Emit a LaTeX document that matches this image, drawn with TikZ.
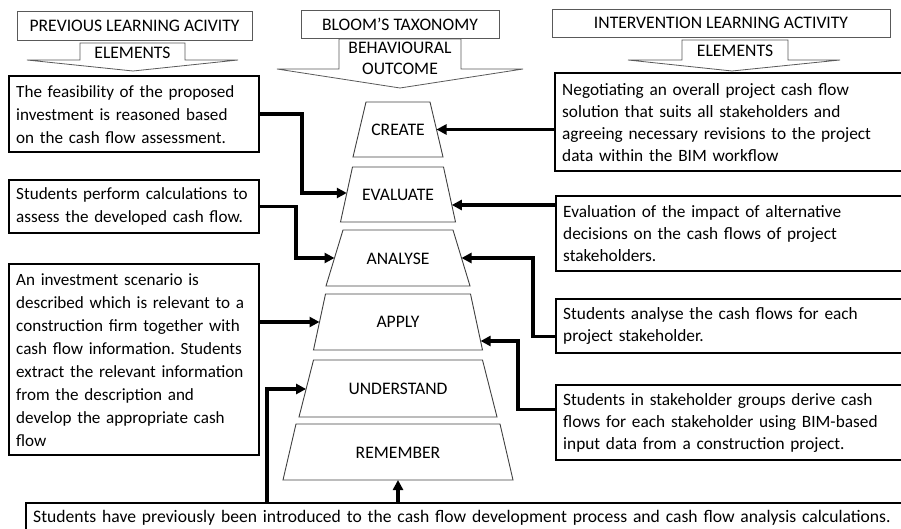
\documentclass[tikz,border=0pt]{standalone}
\usepackage{fontspec}
\setmainfont{Carlito}
\usetikzlibrary{arrows.meta}
\begin{document}
\frenchspacing
\begin{tikzpicture}[x=1pt,y=-1pt,
  txt/.style={font=\fontsize{17.6}{22}\selectfont, inner sep=0pt},
  hdr/.style={draw=black!65, line width=0.8pt, inner sep=0pt, font=\fontsize{17.6}{22}\selectfont},
  callout/.style={draw=black!65, line width=0.8pt, line join=miter},
  lbox/.style={draw=black, line width=2.4pt, anchor=north west, inner xsep=7pt, inner ysep=0pt,
               align=left, font=\fontsize{17.1}{23}\selectfont},
  rbox/.style={lbox, font=\fontsize{17.3}{22}\selectfont},
  wbox/.style={lbox, font=\fontsize{17.6}{22}\selectfont},
  tier/.style={draw=black!75, line width=0.9pt, line join=miter},
  conn/.style={line width=3.4pt, -{Triangle[length=10pt,width=10pt]}, line join=miter}
]
\clip (0,0) rectangle (901,529);
\useasboundingbox (0,0) rectangle (901,529);

% ---------- column headers ----------
\node[hdr, minimum width=235pt, minimum height=29pt] (H1) at (134.5,25.5) {PREVIOUS LEARNING ACIVITY};
\node[hdr, minimum width=198pt, minimum height=28pt] (H2) at (400,24) {BLOOM’S TAXONOMY};
\node[hdr, minimum width=338pt, minimum height=28pt] (H3) at (721,23) {INTERVENTION LEARNING ACTIVITY};

% ---------- down-arrow callouts ----------
\draw[callout] (80,43) -- (185,43) -- (185,60) -- (238,60) -- (133,71) -- (27,60) -- (80,60) -- cycle;
\node[txt] (E1) at (132.5,52.5) {ELEMENTS};
\draw[callout] (339,39) -- (461,39) -- (461,69) -- (523,69) -- (400,88) -- (277,69) -- (339,69) -- cycle;
\node[txt, align=center, font=\fontsize{17.6}{21}\selectfont] (BO) at (400,58.5) {BEHAVIOURAL\\OUTCOME};
\draw[callout] (682,40) -- (788,40) -- (788,60) -- (840,60) -- (732,71) -- (628,60) -- (682,60) -- cycle;
\node[txt] (E3) at (735,51) {ELEMENTS};

% ---------- taxonomy tiers ----------
\draw[tier] (366,102) -- (430,102) -- (443,157) -- (353,157) -- cycle;
\node[txt] (cre) at (398,130) {CREATE};
\draw[tier] (352.5,167) -- (443.5,167) -- (455.5,222) -- (340.5,222) -- cycle;
\node[txt] (eva) at (398,195) {EVALUATE};
\draw[tier] (343,230) -- (453,230) -- (470,286) -- (326,286) -- cycle;
\node[txt] (ana) at (398,258.5) {ANALYSE};
\draw[tier] (325.5,294) -- (470.5,294) -- (482.5,350) -- (313.5,350) -- cycle;
\node[txt] (app) at (398,322) {APPLY};
\draw[tier] (313.5,360) -- (482.5,360) -- (497,417) -- (299,417) -- cycle;
\node[txt] (und) at (398,389) {UNDERSTAND};
\draw[tier] (296,424) -- (500,424) -- (513,480) -- (283,480) -- cycle;
\node[txt] (rem) at (398,452.5) {REMEMBER};

% points on the tier sides where connectors end
\coordinate (cre-e) at (436.5,129.5);
\coordinate (eva-w) at (346.8,193);
\coordinate (eva-e) at (451.8,205);
\coordinate (ana-w) at (334.5,258);
\coordinate (ana-e) at (461.5,258);
\coordinate (app-w) at (319.5,322);
\coordinate (app-e) at (480.6,341);
\coordinate (und-w) at (306.1,389);
\coordinate (rem-s) at (398,480);

% ---------- previous learning activity elements ----------
\node[lbox, text width=236pt, minimum height=76pt] (L1) at (8,75)
  {The feasibility of the proposed\\investment is reasoned based\\on the cash flow assessment.};
\node[lbox, text width=236pt, minimum height=53pt] (L2) at (8,179)
  {Students perform calculations to\\assess the developed cash flow.};
\node[lbox, text width=236pt, minimum height=191pt] (L3) at (8,263)
  {An investment scenario is\\described which is relevant to a\\construction firm together with\\cash flow information. Students\\extract the relevant information\\from the description and\\develop the appropriate cash\\flow};

% ---------- intervention learning activity elements ----------
\node[rbox, text width=350pt, minimum height=98pt] (R1) at (554,72)
  {Negotiating an overall project cash flow\\solution that suits all stakeholders and\\agreeing necessary revisions to the project\\data within the BIM workflow};
\node[rbox, text width=350pt, minimum height=75pt] (R2) at (555,195)
  {Evaluation of the impact of alternative\\decisions on the cash flows of project\\stakeholders.};
\node[rbox, text width=350pt, minimum height=54pt] (R3) at (555,298)
  {Students analyse the cash flows for each\\project stakeholder.};
\node[rbox, text width=350pt, minimum height=75pt] (R4) at (555,384)
  {Students in stakeholder groups derive cash\\flows for each stakeholder using BIM-based\\input data from a construction project.};

% ---------- prior knowledge ----------
\node[wbox, text width=880pt, minimum height=30pt] (B) at (25,502)
  {Students have previously been introduced to the cash flow development process and cash flow analysis calculations.};

% ---------- connectors ----------
\coordinate (j1) at (302,0);
\coordinate (j2) at (296,0);
\coordinate (j4) at (267,0);
\coordinate (j8) at (533,0);
\coordinate (j9) at (518,0);

\draw[conn] (L1.east) -| (j1 |- eva-w) -- (eva-w);
\draw[conn] (L2.east) -| (j2 |- ana-w) -- (ana-w);
\draw[conn] (L3.east |- app-w) -- (app-w);
\draw[conn] (B.north -| j4) |- (und-w);
\draw[conn] (B.north -| rem-s) -- (rem-s);

\draw[conn] (R1.west |- cre-e) -- (cre-e);
\draw[conn] (R2.west |- eva-e) -- (eva-e);
\draw[conn] ([yshift=-10pt]R3.west) -| (j8 |- ana-e) -- (ana-e);
\draw[conn] ([yshift=13pt]R4.west) -| (j9 |- app-e) -- (app-e);
\end{tikzpicture}
\end{document}
